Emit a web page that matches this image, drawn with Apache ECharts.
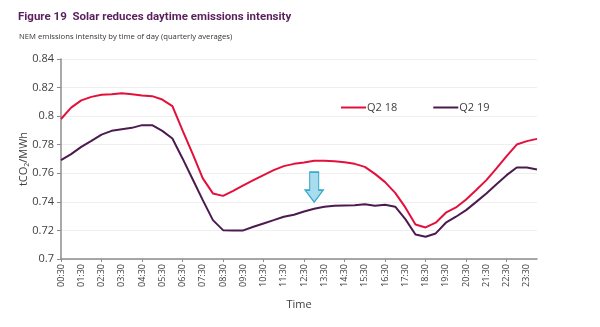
<!DOCTYPE html>
<html>
<head>
<meta charset="utf-8">
<style>
  html, body { margin: 0; padding: 0; background: #fff; }
  #chart { width: 600px; height: 327px; }
</style>
<script src="https://cdn.jsdelivr.net/npm/echarts@6/dist/echarts.min.js"></script>
</head>
<body>
<div id="chart"></div>
<script>
// Half-hourly time slots, 00:30 through 24:00
const times = [
  '00:30','01:00','01:30','02:00','02:30','03:00','03:30','04:00','04:30','05:00','05:30','06:00',
  '06:30','07:00','07:30','08:00','08:30','09:00','09:30','10:00','10:30','11:00','11:30','12:00',
  '12:30','13:00','13:30','14:00','14:30','15:00','15:30','16:00','16:30','17:00','17:30','18:00',
  '18:30','19:00','19:30','20:00','20:30','21:00','21:30','22:00','22:30','23:00','23:30','24:00'
];

// NEM emissions intensity (tCO2/MWh), quarterly averages
const q2_18 = [
  0.798, 0.806, 0.811, 0.8135, 0.815, 0.8153, 0.816, 0.8153, 0.8144, 0.814, 0.8116, 0.807,
  0.790, 0.7736, 0.7564, 0.7459, 0.7442, 0.7477, 0.7515, 0.7552, 0.7587, 0.7622, 0.765, 0.7666,
  0.7676, 0.7687, 0.7687, 0.7685, 0.7678, 0.7666, 0.7645, 0.7596, 0.7538, 0.7463, 0.7361, 0.7242,
  0.7221, 0.7254, 0.7324, 0.7361, 0.7417, 0.7483, 0.7552, 0.7634, 0.772, 0.7801, 0.7825, 0.7841
];
const q2_19 = [
  0.7692, 0.7734, 0.7785, 0.7827, 0.7871, 0.7897, 0.7909, 0.7918, 0.7937, 0.7937, 0.7897, 0.7843,
  0.7704, 0.7558, 0.7412, 0.7272, 0.7202, 0.7200, 0.7200, 0.7226, 0.7249, 0.7272, 0.7296, 0.731,
  0.7333, 0.7352, 0.7366, 0.7373, 0.7375, 0.7377, 0.7384, 0.7373, 0.738, 0.7366, 0.7279, 0.7172,
  0.7156, 0.7179, 0.7254, 0.7296, 0.7342, 0.740, 0.7459, 0.7524, 0.7587, 0.7641, 0.7641, 0.7627
];

// Position of the "daytime dip" arrow, in data terms
const arrowSlot = '13:00';
const arrowValue = 0.7503;

const RED = '#e4103c';
const PURPLE = '#4b1b4f';
const TEXT = '#404040';

const chart = echarts.init(document.getElementById('chart'), null, { renderer: 'canvas' });

chart.setOption({
  animation: false,
  backgroundColor: '#ffffff',
  textStyle: { fontFamily: 'Open Sans, Noto Sans, sans-serif' },
  title: [
    {
      text: 'Figure 19  Solar reduces daytime emissions intensity',
      left: 13, top: 6,
      textStyle: { fontFamily: 'Roboto, sans-serif', fontWeight: 'bold', fontSize: 11.5, color: '#5a1f5c' }
    },
    {
      text: 'NEM emissions intensity by time of day (quarterly averages)',
      left: 14, top: 28,
      textStyle: { fontFamily: 'Open Sans, sans-serif', fontWeight: 'normal', fontSize: 7.7, color: '#333' }
    }
  ],
  legend: {
    left: 336, top: 97,
    icon: 'rect',
    itemWidth: 25, itemHeight: 2, itemGap: 36,
    textStyle: { fontSize: 11, color: TEXT, padding: [0, 0, 0, -4] },
    data: ['Q2 18', 'Q2 19']
  },
  grid: { left: 61, right: 63, top: 59, bottom: 68 },
  xAxis: {
    type: 'category',
    data: times,
    boundaryGap: false,
    name: 'Time',
    nameLocation: 'middle',
    nameGap: 40,
    nameMoveOverlap: false,
    nameTextStyle: { fontSize: 11, color: TEXT },
    axisLine: { lineStyle: { color: '#8c8c8c', width: 1.5 } },
    axisTick: { show: true, interval: 3, length: 3, lineStyle: { color: '#8c8c8c' } },
    axisLabel: { interval: 1, rotate: 90, fontSize: 9, color: TEXT, margin: 5 },
    splitLine: { show: false }
  },
  yAxis: {
    type: 'value',
    min: 0.7, max: 0.84, interval: 0.02,
    name: '{a|tCO}{s|2}{a|/MWh}',
    nameLocation: 'middle',
    nameRotate: 90,
    nameGap: 31,
    nameMoveOverlap: false,
    nameTextStyle: {
      rich: {
        a: { fontSize: 11, color: TEXT },
        s: { fontSize: 7, color: TEXT, verticalAlign: 'bottom', padding: [6, 0, 0, 0] }
      }
    },
    axisLine: { show: true, lineStyle: { color: '#8c8c8c', width: 1.5 } },
    axisTick: { show: true, length: 4, lineStyle: { color: '#8c8c8c' } },
    axisLabel: {
      fontSize: 11, color: TEXT, margin: 7,
      formatter: v => String(parseFloat(v.toFixed(2)))
    },
    splitLine: { show: true, lineStyle: { color: '#efefef', width: 1 } }
  },
  series: [
    {
      name: 'Q2 18', type: 'line', data: q2_18,
      symbol: 'none', lineStyle: { color: RED, width: 2 }, itemStyle: { color: RED },
      markPoint: {
        symbol: 'path://M4.5,0 L13.5,0 L13.5,18 L18,18 L9,30 L0,18 L4.5,18 Z',
        symbolSize: [18, 30],
        silent: true,
        label: { show: false },
        itemStyle: { color: '#a9dded', borderColor: '#36a9cc', borderWidth: 1.3 },
        data: [{ coord: [arrowSlot, arrowValue] }]
      }
    },
    {
      name: 'Q2 19', type: 'line', data: q2_19,
      symbol: 'none', lineStyle: { color: PURPLE, width: 2 }, itemStyle: { color: PURPLE }
    }
  ]
});
</script>
</body>
</html>
